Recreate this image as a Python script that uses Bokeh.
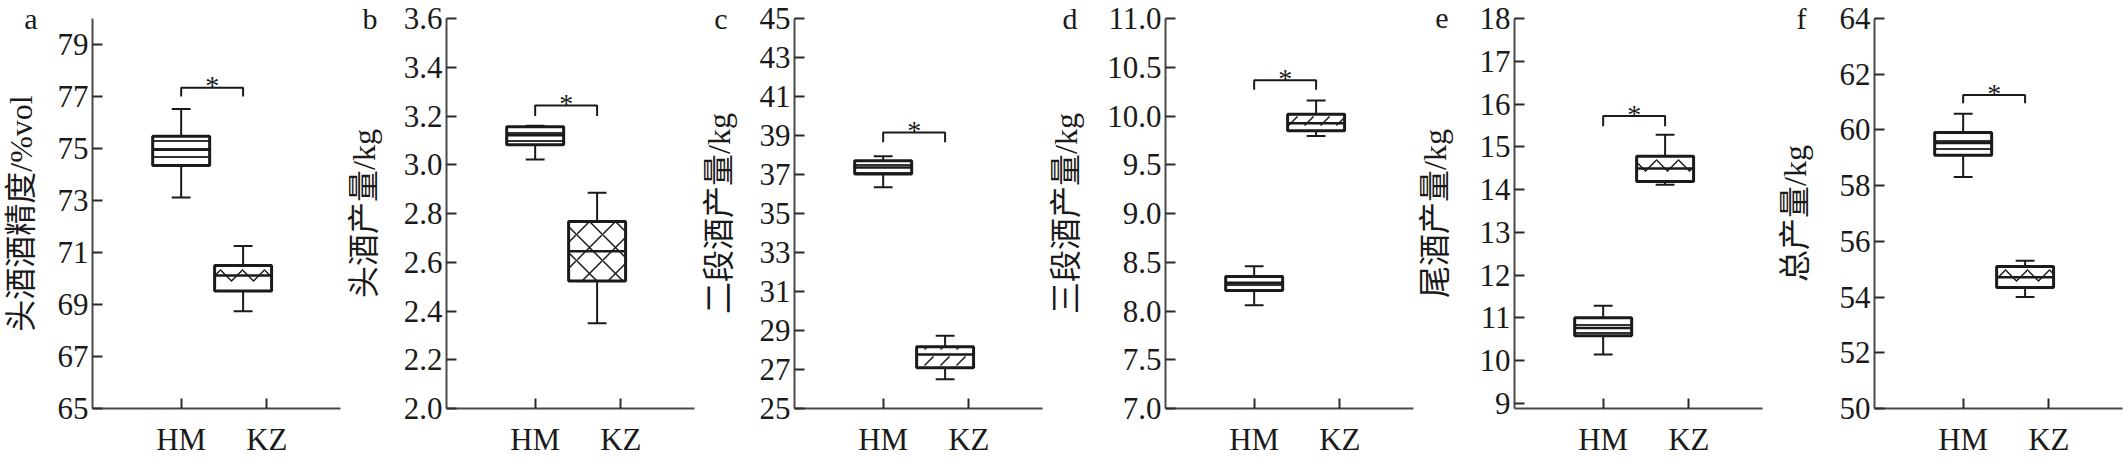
from bokeh.plotting import figure
from bokeh.layouts import row
from bokeh.models import (FixedTicker, Label, Range1d, ColumnDataSource, LinearAxis,
                          CustomJSTickFormatter)
from bokeh.embed import file_html
from bokeh.resources import INLINE

# ---------------- data ----------------
groups = ["HM", "KZ"]
panel_letters = ["a", "b", "c", "d", "e", "f"]
y_titles = ["头酒酒精度/%vol", "头酒产量/kg", "二段酒产量/kg",
            "三段酒产量/kg", "尾酒产量/kg", "总产量/kg"]

y_ticks_a = [65, 67, 69, 71, 73, 75, 77, 79]
y_ticks_b = [2.0, 2.2, 2.4, 2.6, 2.8, 3.0, 3.2, 3.4, 3.6]
y_ticks_c = [25, 27, 29, 31, 33, 35, 37, 39, 41, 43, 45]
y_ticks_d = [7.0, 7.5, 8.0, 8.5, 9.0, 9.5, 10.0, 10.5, 11.0]
y_ticks_e = [9, 10, 11, 12, 13, 14, 15, 16, 17, 18]
y_ticks_f = [50, 52, 54, 56, 58, 60, 62, 64]
y_ticks = [y_ticks_a, y_ticks_b, y_ticks_c, y_ticks_d, y_ticks_e, y_ticks_f]
y_tick_labels = [
    ["65", "67", "69", "71", "73", "75", "77", "79"],
    ["2.0", "2.2", "2.4", "2.6", "2.8", "3.0", "3.2", "3.4", "3.6"],
    ["25", "27", "29", "31", "33", "35", "37", "39", "41", "43", "45"],
    ["7.0", "7.5", "8.0", "8.5", "9.0", "9.5", "10.0", "10.5", "11.0"],
    ["9", "10", "11", "12", "13", "14", "15", "16", "17", "18"],
    ["50", "52", "54", "56", "58", "60", "62", "64"],
]
y_limits = [(65, 80), (2.0, 3.6), (25, 45), (7.0, 11.0), (8.88, 18), (50, 64)]

# box statistics per panel, [HM, KZ]
whisker_low = [[73.12, 68.74], [3.022, 2.35], [36.34, 26.50], [8.06, 9.795], [10.14, 14.11], [58.31, 54.00]]
q1          = [[74.35, 69.52], [3.082, 2.523], [37.02, 27.09], [8.21, 9.850], [10.58, 14.19], [59.09, 54.34]]
median      = [[74.95, 70.12], [3.121, 2.645], [37.36, 27.77], [8.29, 9.925], [10.76, 14.49], [59.53, 54.71]]
q3          = [[75.47, 70.50], [3.156, 2.767], [37.71, 28.17], [8.355, 10.018], [11.00, 14.78], [59.91, 55.10]]
whisker_high = [[76.52, 71.25], [3.160, 2.885], [37.93, 28.73], [8.46, 10.16], [11.28, 15.28], [60.58, 55.30]]

# significance bracket (horizontal level, foot level)
bracket_top = [77.34, 3.243, 39.16, 10.366, 15.72, 61.25]
bracket_foot = [77.00, 3.200, 38.66, 10.270, 15.48, 60.96]
sig_marks = ["*", "*", "*", "*", "*", "*"]

# ---------------- styling / layout ----------------
tick_pos = [1, 2]
box_x = [1.0, 1.723]
box_w = 0.665
cap_w = 0.22
kz_hatch = ["horizontal_wave", "diagonal_cross", "right_diagonal_dash",
            "right_diagonal_dash", "horizontal_wave", "horizontal_wave"]
kz_hatch_scale = [22, 26, 16, 16, 22, 22]
border_left = [87, 104, 98, 121, 93, 111]
border_right = [2, 2, 2, 1, 1, 2]
letter_standoff = [17, 23, 29, 27, 28, 30]
title_standoff = [-18, -22, -26, -24, -21, -19]

INK = "#1a1a1a"
SERIF = "Liberation Serif"
CJK = "Liberation Serif, Noto Sans CJK SC"

figs = []
for i in range(6):
    lo, hi = y_limits[i]
    p = figure(frame_width=248, frame_height=390,
               x_range=Range1d(-0.035, 2.86), y_range=Range1d(lo, hi),
               output_backend="svg", toolbar_location=None,
               min_border_left=border_left[i], min_border_right=border_right[i],
               min_border_top=18, min_border_bottom=44)
    p.grid.visible = False
    p.outline_line_color = None

    for ax in (p.xaxis[0], p.yaxis[0]):
        ax.axis_line_color = "#4a4a4a"
        ax.axis_line_width = 2
        ax.major_tick_line_color = "#2a2a2a"
        ax.major_tick_line_width = 2
        ax.major_tick_in = 10
        ax.major_tick_out = 0
        ax.minor_tick_line_color = None
        ax.major_label_text_font = SERIF
        ax.major_label_text_font_size = "31px"
        ax.major_label_text_color = INK

    xa = p.xaxis[0]
    xa.ticker = FixedTicker(ticks=tick_pos)
    xa.major_label_overrides = {t: g for t, g in zip(tick_pos, groups)}
    xa.major_label_standoff = 13

    ya = p.yaxis[0]
    ya.ticker = FixedTicker(ticks=y_ticks[i])
    ya.major_label_overrides = {t: s for t, s in zip(y_ticks[i], y_tick_labels[i])}
    ya.major_label_standoff = 4

    # outer left axis: carries the panel letter (as its only tick label) and the title
    letter_tick = hi - (hi - lo) * 0.001
    outer = LinearAxis(ticker=FixedTicker(ticks=[letter_tick]),
                       formatter=CustomJSTickFormatter(args=dict(t=panel_letters[i]), code="return t"),
                       axis_line_color=None, major_tick_line_color=None,
                       minor_tick_line_color=None, major_tick_in=0, major_tick_out=0,
                       major_label_standoff=letter_standoff[i],
                       major_label_text_font=SERIF, major_label_text_font_size="30px",
                       major_label_text_color=INK,
                       axis_label=y_titles[i], axis_label_standoff=title_standoff[i],
                       axis_label_text_font=CJK, axis_label_text_font_size="32px",
                       axis_label_text_font_style="normal", axis_label_text_color=INK)
    p.add_layout(outer, "left")

    src = ColumnDataSource(dict(
        x=box_x,
        left=[x - box_w / 2 for x in box_x],
        right=[x + box_w / 2 for x in box_x],
        cl=[x - cap_w / 2 for x in box_x],
        cr=[x + cap_w / 2 for x in box_x],
        lo=whisker_low[i], q1=q1[i], med=median[i], q3=q3[i], hi=whisker_high[i],
    ))
    # whiskers and caps
    p.segment(x0="x", x1="x", y0="q3", y1="hi", source=src, line_color=INK, line_width=2)
    p.segment(x0="x", x1="x", y0="lo", y1="q1", source=src, line_color=INK, line_width=2)
    p.segment(x0="cl", x1="cr", y0="hi", y1="hi", source=src, line_color=INK, line_width=2)
    p.segment(x0="cl", x1="cr", y0="lo", y1="lo", source=src, line_color=INK, line_width=2)

    # boxes (HM brick-like hatch, KZ panel specific hatch)
    hm = ColumnDataSource(dict(left=[src.data["left"][0]], right=[src.data["right"][0]],
                               bottom=[q1[i][0]], top=[q3[i][0]]))
    kz = ColumnDataSource(dict(left=[src.data["left"][1]], right=[src.data["right"][1]],
                               bottom=[q1[i][1]], top=[q3[i][1]]))
    p.quad(left="left", right="right", bottom="bottom", top="top", source=hm,
           fill_color="white", line_color=INK, line_width=3,
           hatch_pattern="horizontal_line", hatch_color=INK, hatch_scale=8, hatch_weight=1.8)
    p.quad(left="left", right="right", bottom="bottom", top="top", source=kz,
           fill_color="white", line_color=INK, line_width=3,
           hatch_pattern=kz_hatch[i], hatch_color=INK, hatch_scale=kz_hatch_scale[i], hatch_weight=1.5)
    p.segment(x0="left", x1="right", y0="med", y1="med", source=src, line_color=INK, line_width=2.5)

    # significance bracket
    p.line(x=[box_x[0], box_x[0], box_x[1], box_x[1]],
           y=[bracket_foot[i], bracket_top[i], bracket_top[i], bracket_foot[i]],
           line_color=INK, line_width=2)
    p.add_layout(Label(x=(box_x[0] + box_x[1]) / 2, y=bracket_top[i], text=sig_marks[i],
                       text_align="center", text_baseline="alphabetic", y_offset=2,
                       text_font=SERIF, text_font_size="28px", text_color=INK))
    figs.append(p)

layout = row(*figs)
open("out.html", "w").write(file_html(layout, INLINE))
